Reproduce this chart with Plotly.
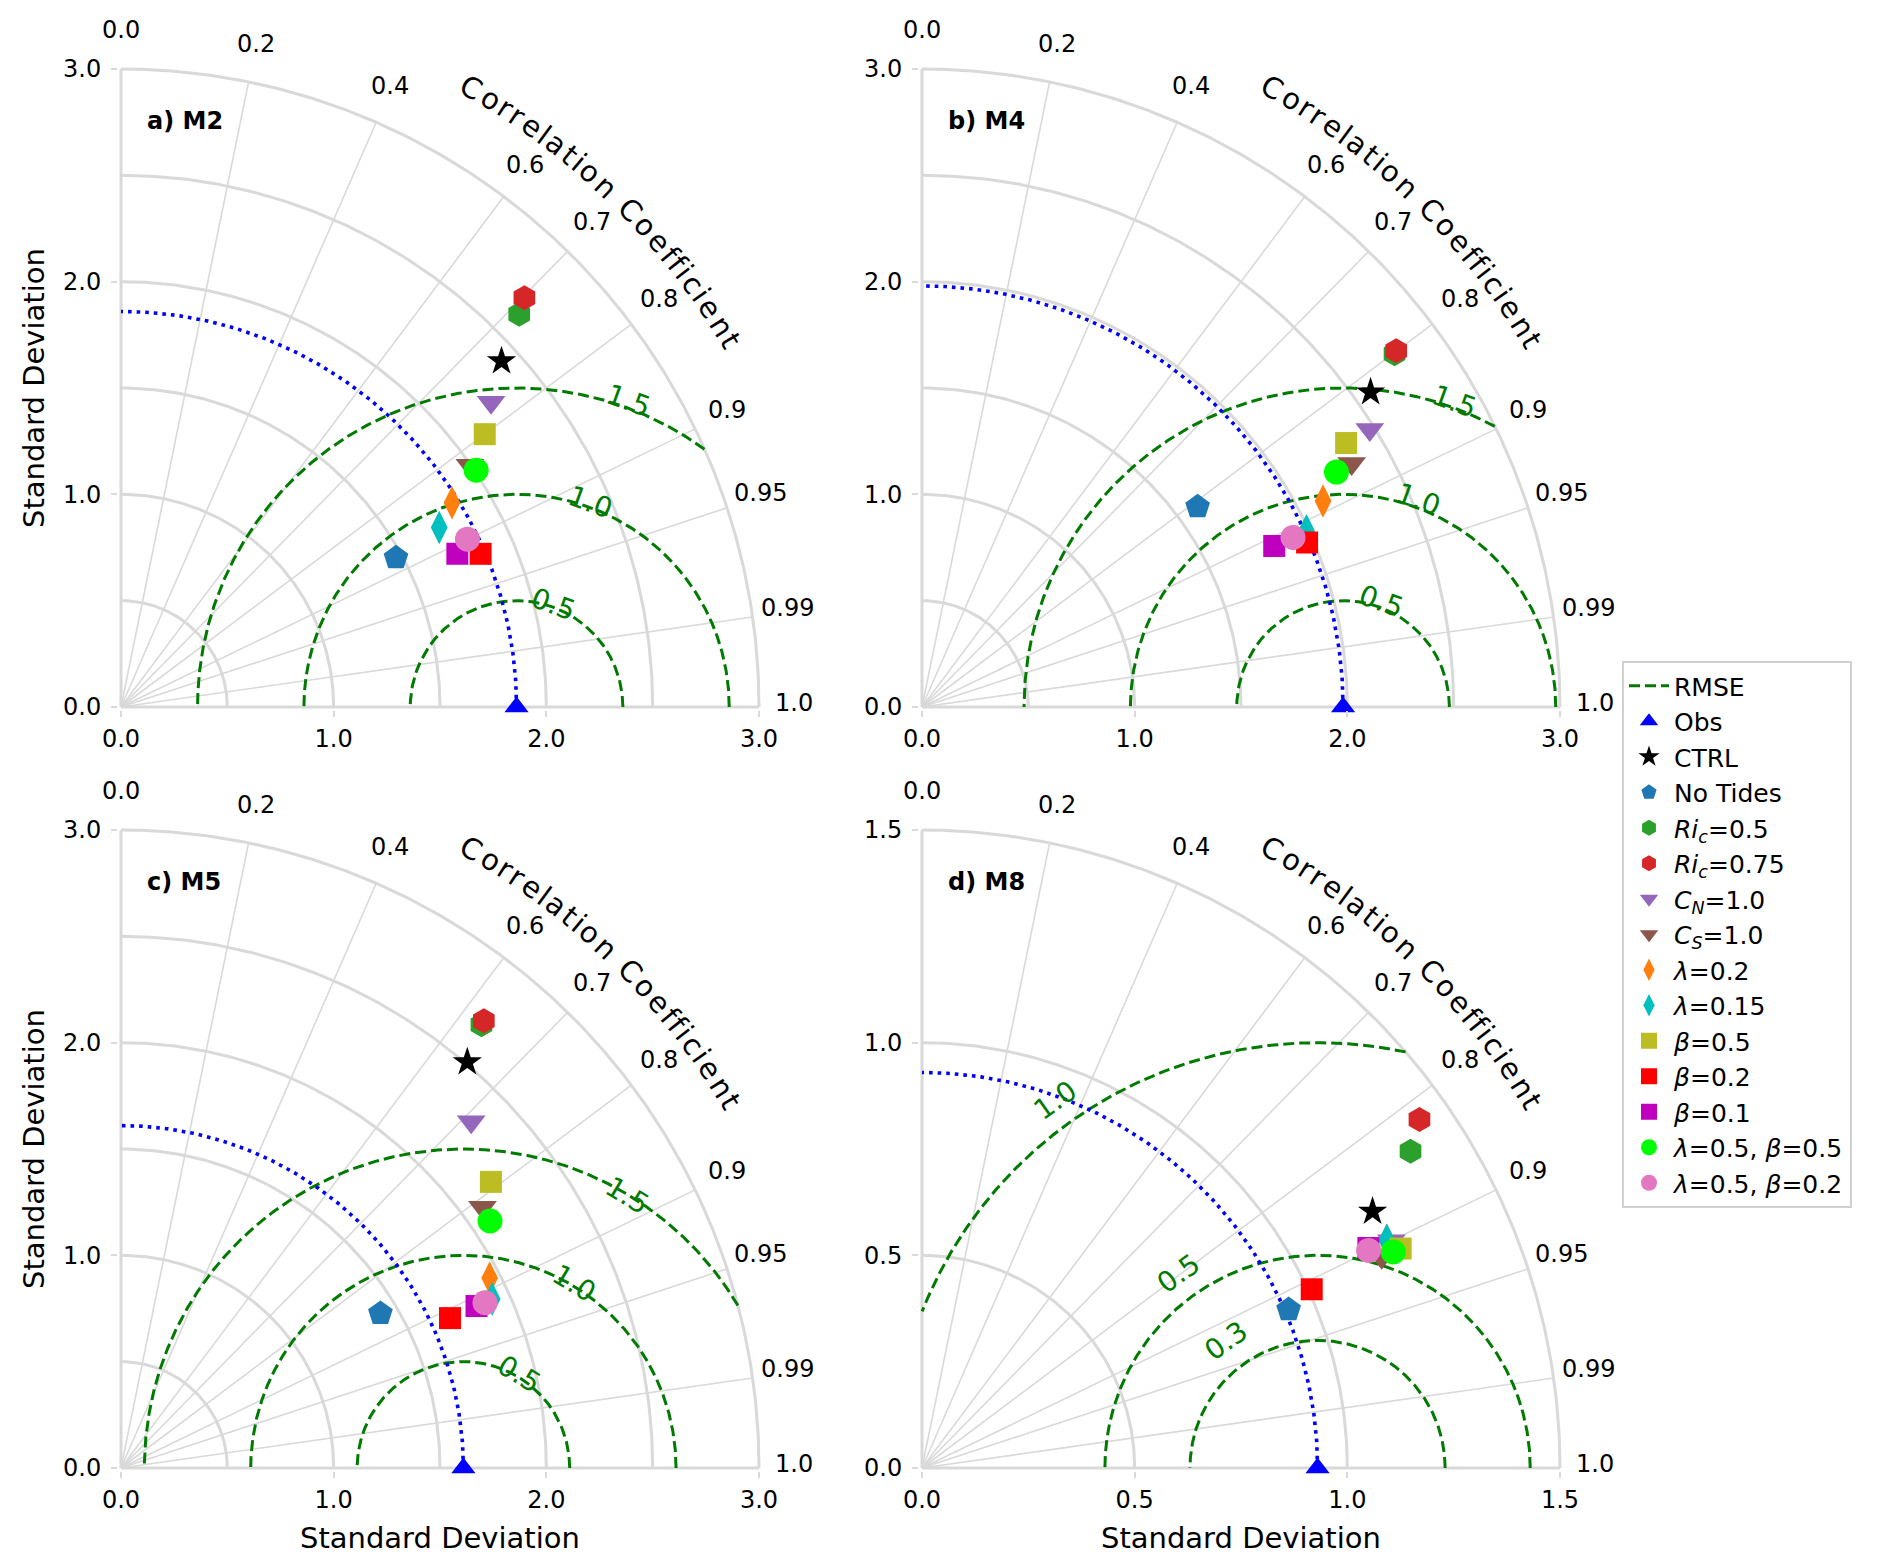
import numpy as np
import plotly.graph_objects as go

W, H = 1892, 1566

# ------------------------------------------------------------------ data
panel_titles = ["a) M2", "b) M4", "c) M5", "d) M8"]
max_std = [3.0, 3.0, 3.0, 1.5]
std_ticks = [[0.0, 1.0, 2.0, 3.0], [0.0, 1.0, 2.0, 3.0], [0.0, 1.0, 2.0, 3.0], [0.0, 0.5, 1.0, 1.5]]
std_grid = [[0.5, 1.0, 1.5, 2.0, 2.5, 3.0], [0.5, 1.0, 1.5, 2.0, 2.5, 3.0],
            [0.5, 1.0, 1.5, 2.0, 2.5, 3.0], [0.5, 1.0, 1.5]]
obs_std = [1.86, 1.98, 1.61, 0.93]

corr_grid = [0.2, 0.4, 0.6, 0.7, 0.8, 0.9, 0.95, 0.99]
corr_ticks = [0.0, 0.2, 0.4, 0.6, 0.7, 0.8, 0.9, 0.95, 0.99, 1.0]
corr_tick_text = ["0.0", "0.2", "0.4", "0.6", "0.7", "0.8", "0.9", "0.95", "0.99", "1.0"]

rmse_levels = [[0.5, 1.0, 1.5], [0.5, 1.0, 1.5], [0.5, 1.0, 1.5], [0.3, 0.5, 1.0]]
rmse_text = [["0.5", "1.0", "1.5"], ["0.5", "1.0", "1.5"], ["0.5", "1.0", "1.5"], ["0.3", "0.5", "1.0"]]
rmse_label_angle = [70.0, 70.0, 59.0, 125.5]
rmse_label_radius = [[0.512, 1.022, 1.533], [0.528, 1.036, 1.527],
                     [0.515, 1.013, 1.495], [0.367, 0.563, 1.062]]

exp_labels = ["CTRL", "No Tides",
              "<i>Ri</i><sub><i>c</i></sub>=0.5", "<i>Ri</i><sub><i>c</i></sub>=0.75",
              "<i>C</i><sub><i>N</i></sub>=1.0", "<i>C</i><sub><i>S</i></sub>=1.0",
              "<i>λ</i>=0.2", "<i>λ</i>=0.15",
              "<i>β</i>=0.5", "<i>β</i>=0.2", "<i>β</i>=0.1",
              "<i>λ</i>=0.5, <i>β</i>=0.5", "<i>λ</i>=0.5, <i>β</i>=0.2"]

# std / correlation of each experiment, per panel (same order as exp_labels)
std_m2 = [2.418, 1.471, 2.630, 2.702, 2.254, 1.996, 1.829, 1.718, 2.138, 1.838, 1.738, 2.007, 1.810]
corr_m2 = [0.740, 0.879, 0.712, 0.702, 0.772, 0.822, 0.851, 0.871, 0.800, 0.920, 0.910, 0.832, 0.900]
std_m4 = [2.577, 1.602, 2.774, 2.789, 2.477, 2.322, 2.120, 1.989, 2.349, 1.969, 1.821, 2.240, 1.918]
corr_m4 = [0.8185, 0.809, 0.801, 0.7995, 0.850, 0.870, 0.8895, 0.909, 0.849, 0.9196, 0.9095, 0.870, 0.9096]
std_m5 = [2.509, 1.420, 2.686, 2.708, 2.316, 2.096, 1.950, 1.918, 2.199, 1.700, 1.837, 2.088, 1.880]
corr_m5 = [0.649, 0.859, 0.631, 0.630, 0.711, 0.811, 0.889, 0.910, 0.791, 0.910, 0.910, 0.831, 0.9105]
std_m8 = [1.219, 0.939, 1.369, 1.428, 1.226, 1.189, 1.217, 1.217, 1.238, 1.008, 1.170, 1.219, 1.168]
corr_m8 = [0.869, 0.918, 0.839, 0.819, 0.900, 0.909, 0.898, 0.898, 0.909, 0.909, 0.897, 0.909, 0.899]

panel_std = [std_m2, std_m4, std_m5, std_m8]
panel_corr = [corr_m2, corr_m4, corr_m5, corr_m8]

# ------------------------------------------------------------------ styles
exp_symbols = ["star", "pentagon", "hexagon", "hexagon", "triangle-down", "triangle-down",
               "diamond-tall", "diamond-tall", "square", "square", "square", "circle", "circle"]
exp_colors = ["#000000", "#1f77b4", "#2ca02c", "#d62728", "#9467bd", "#8c564b",
              "#ff7f0e", "#00bfbf", "#bcbd22", "#ff0000", "#bf00bf", "#00ff00", "#e377c2"]
exp_sizes = [22, 26, 25, 25, 25, 25, 24, 24, 22, 22, 22, 25, 25]

GRID = "#d9d9d9"
RMSE_C = "#007a00"
FONT = "DejaVu Sans"

OFF = 8  # page body margin
origins = [(121 - OFF, 707 - OFF), (922 - OFF, 707 - OFF), (121 - OFF, 1468 - OFF), (922 - OFF, 1468 - OFF)]
R_PX = 638
PAD = 3

fig = go.Figure()
annotations = []


def ann(px, py, text, size, color="black", angle=0, xanchor="center", yshift=0):
    annotations.append(dict(x=px / W, y=1 - py / H, xref="paper", yref="paper",
                            xanchor=xanchor, yanchor="middle", text=text, showarrow=False,
                            textangle=angle, yshift=yshift,
                            font=dict(family=FONT, size=size, color=color)))


def to_xy(s, c):
    s = np.asarray(s, dtype=float)
    c = np.asarray(c, dtype=float)
    th = np.arccos(c)
    return s * np.cos(th), s * np.sin(th)


for i in range(4):
    n = "" if i == 0 else str(i + 1)
    xa, ya = "x" + n, "y" + n
    R = max_std[i]
    ox, oy = origins[i]
    scale = R_PX / R
    pad = PAD / scale
    first = (i == 0)

    def pix(x, y):
        return ox + x * scale, oy - y * scale

    common = dict(tickvals=std_ticks[i], ticktext=["%.1f" % v for v in std_ticks[i]],
                  ticks="outside", ticklen=6, tickwidth=2, tickcolor=GRID,
                  showgrid=False, zeroline=False, showline=False, automargin=False,
                  range=[-pad, R + pad],
                  tickfont=dict(family=FONT, size=24, color="black"))
    fig.update_layout({
        "xaxis" + n: dict(domain=[(ox - PAD) / W, (ox + R_PX + PAD) / W], anchor=ya,
                          ticklabelstandoff=1, **common),
        "yaxis" + n: dict(domain=[1 - (oy + PAD) / H, 1 - (oy - R_PX - PAD) / H], anchor=xa,
                          ticklabelstandoff=5, **common),
    })

    # --- std arcs + axes
    gx, gy = [], []
    th = np.linspace(0, np.pi / 2, 200)
    for s in std_grid[i]:
        gx += list(s * np.cos(th)) + [None]
        gy += list(s * np.sin(th)) + [None]
    gx += [0, R, None, 0, 0]
    gy += [0, 0, None, 0, R]
    fig.add_trace(go.Scatter(x=gx, y=gy, mode="lines", xaxis=xa, yaxis=ya,
                             line=dict(color=GRID, width=3), showlegend=False, hoverinfo="skip"))
    # --- correlation spokes
    sx, sy = [], []
    for c in corr_grid:
        t = np.arccos(c)
        sx += [0, R * np.cos(t), None]
        sy += [0, R * np.sin(t), None]
    fig.add_trace(go.Scatter(x=sx, y=sy, mode="lines", xaxis=xa, yaxis=ya,
                             line=dict(color=GRID, width=1.6), showlegend=False, hoverinfo="skip"))

    # --- RMSE contours
    rx, ry = [], []
    phi = np.linspace(0, np.pi, 1500)
    for L in rmse_levels[i]:
        x = obs_std[i] + L * np.cos(phi)
        y = L * np.sin(phi)
        ok = (x >= 0) & (x * x + y * y <= R * R)
        prev = False
        for xv, yv, k in zip(x, y, ok):
            if k:
                rx.append(xv)
                ry.append(yv)
            elif prev:
                rx.append(None)
                ry.append(None)
            prev = k
        rx.append(None)
        ry.append(None)
    fig.add_trace(go.Scatter(x=rx, y=ry, mode="lines", xaxis=xa, yaxis=ya, name="RMSE",
                             legendgroup="rmse", showlegend=first,
                             line=dict(color=RMSE_C, width=3, dash="11px,5px"), hoverinfo="skip"))
    for L, txt, rl in zip(rmse_levels[i], rmse_text[i], rmse_label_radius[i]):
        a = np.radians(rmse_label_angle[i])
        px, py = pix(obs_std[i] + rl * np.cos(a), rl * np.sin(a))
        ann(px, py, txt, 28, RMSE_C, angle=90 - rmse_label_angle[i])

    # --- observation std arc
    fig.add_trace(go.Scatter(x=obs_std[i] * np.cos(th), y=obs_std[i] * np.sin(th), mode="lines",
                             xaxis=xa, yaxis=ya, showlegend=False, hoverinfo="skip",
                             line=dict(color="#0000ff", width=3.6, dash="3.6px,5px")))
    fig.add_trace(go.Scatter(x=[obs_std[i]], y=[0.0], mode="markers", xaxis=xa, yaxis=ya,
                             name="Obs", legendgroup="obs", showlegend=first, cliponaxis=False,
                             marker=dict(symbol="triangle-up", size=21, color="#0000ff")))

    # --- experiments
    ex, ey = to_xy(panel_std[i], panel_corr[i])
    for k in range(len(exp_labels)):
        fig.add_trace(go.Scatter(x=[ex[k]], y=[ey[k]], mode="markers", xaxis=xa, yaxis=ya,
                                 name=exp_labels[k], legendgroup="e%d" % k, showlegend=first,
                                 cliponaxis=False,
                                 marker=dict(symbol=exp_symbols[k], size=exp_sizes[k],
                                             color=exp_colors[k], line=dict(width=0))))

    # --- correlation tick labels
    for c, txt in zip(corr_ticks, corr_tick_text):
        t = np.arccos(c)
        px, py = pix(1.055 * R * np.cos(t), 1.055 * R * np.sin(t))
        ann(px, py, txt, 24, yshift=4)

    # --- curved "Correlation Coefficient" title
    title = "Correlation Coefficient"
    widths = {"C": 0.698, "o": 0.612, "r": 0.411, "e": 0.615, "l": 0.278, "a": 0.613, "t": 0.392,
              "i": 0.278, "n": 0.634, " ": 0.318, "f": 0.352, "c": 0.550}
    w = np.array([widths[ch] for ch in title])
    centers = np.cumsum(w) - w / 2
    t0, t1 = 60.5, 31.0
    angs = t0 + (centers - centers[0]) / (centers[-1] - centers[0]) * (t1 - t0)
    for ch, ang in zip(title, angs):
        if ch == " ":
            continue
        a = np.radians(ang)
        px, py = pix(1.115 * R * np.cos(a), 1.115 * R * np.sin(a))
        ann(px, py, ch, 29, angle=90 - ang)

    # --- panel label
    px, py = pix(0.038 * R, 0.918 * R)
    ann(px, py, "<b>%s</b>" % panel_titles[i], 24, xanchor="left")

    # --- axis titles
    if i in (0, 2):
        ann(34 - OFF, oy - R_PX / 2, "Standard Deviation", 29, angle=-90)
    if i in (2, 3):
        ann(ox + R_PX / 2, 1538 - OFF, "Standard Deviation", 29)

fig.update_layout(
    width=W, height=H,
    margin=dict(l=0, r=0, t=0, b=0, autoexpand=False),
    paper_bgcolor="white", plot_bgcolor="white",
    annotations=annotations,
    font=dict(family=FONT, size=24, color="black"),
    legend=dict(x=(1622 - OFF) / W, y=1 - (661 - OFF) / H, xanchor="left", yanchor="top",
                bgcolor="white", bordercolor="#d0d0d0", borderwidth=2, itemwidth=40,
                font=dict(family=FONT, size=25, color="black"), tracegroupgap=0),
)

fig.write_html("out.html")
